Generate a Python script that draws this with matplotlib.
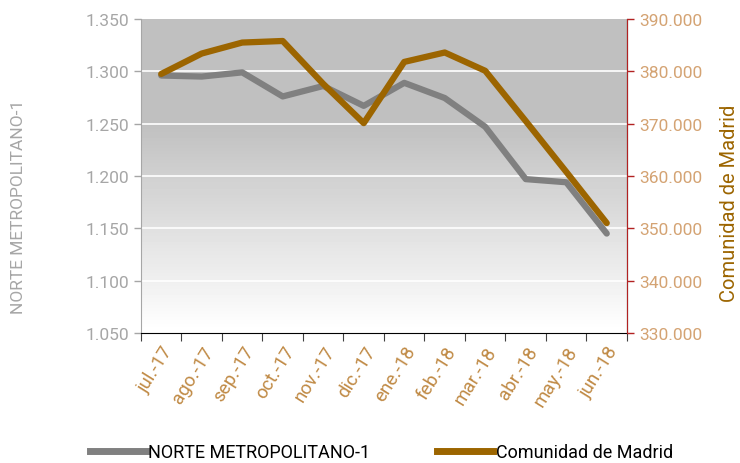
import numpy as np
import matplotlib
matplotlib.use('Agg')
import matplotlib.pyplot as plt
from matplotlib.lines import Line2D

# Data
months = ['jul.-17', 'ago.-17', 'sep.-17', 'oct.-17', 'nov.-17', 'dic.-17',
          'ene.-18', 'feb.-18', 'mar.-18', 'abr.-18', 'may.-18', 'jun.-18']
norte = [1.296, 1.295, 1.299, 1.276, 1.286, 1.267,
         1.289, 1.2745, 1.247, 1.197, 1.194, 1.145]
madrid = [379500, 383400, 385500, 385800, 377600, 370100,
          381800, 383600, 380100, 370500, 360800, 351000]

left_ticks = [1.050, 1.100, 1.150, 1.200, 1.250, 1.300, 1.350]
right_ticks = [330000, 340000, 350000, 360000, 370000, 380000, 390000]

plt.rcParams['font.family'] = ['Roboto', 'DejaVu Sans']

fig = plt.figure(figsize=(7.4, 4.64), dpi=100)
ax = fig.add_axes([0.1905, 0.2802, 0.6568, 0.6767])
ax2 = ax.twinx()

x = np.arange(len(months))
ax.set_xlim(-0.5, len(months) - 0.5)
ax.set_ylim(1.050, 1.350)
ax2.set_ylim(330000, 390000)

# gradient background: gray at top, white at bottom
grad = np.concatenate([np.linspace(1.0, 0.75, 68), np.full(32, 0.75)])[:, None]
ax.imshow(grad, cmap='gray', vmin=0, vmax=1, aspect='auto',
          extent=(-0.5, len(months) - 0.5, 1.050, 1.350), origin='lower', zorder=0)

for t in left_ticks[1:-1]:
    ax.axhline(t, color='white', lw=1.2, zorder=1)

ax.plot(x, norte, color='#808080', lw=4.5, solid_capstyle='round', zorder=3)
ax2.plot(x, madrid, color='#9c6500', lw=4.5, solid_capstyle='round', zorder=3)

# left axis
ax.set_yticks(left_ticks)
ax.set_yticklabels([f'{v:.3f}' for v in left_ticks])
ax.tick_params(axis='y', colors='#a6a6a6', labelsize=12.5, length=5, width=1)
ax.set_ylabel('NORTE METROPOLITANO-1', color='#a6a6a6', fontsize=12.5)
ax.yaxis.set_label_coords(-0.237, 0.404)

# right axis
ax2.set_yticks(right_ticks)
ax2.set_yticklabels([f'{v // 1000}.000' for v in right_ticks])
ax2.tick_params(axis='y', colors='#b22222', labelcolor='#d4a373', labelsize=12.5,
                length=5, width=1)
ax2.set_ylabel('Comunidad de Madrid', color='#9c6500', fontsize=14.5)
ax2.yaxis.set_label_coords(1.192, 0.417)

# x axis
ax.set_xticks(np.arange(-0.5, len(months), 1.0))
ax.set_xticklabels([])
ax.set_xticks(x, minor=True)
ax.set_xticklabels(months, minor=True, rotation=58, ha='right', va='top',
                   rotation_mode='anchor', color='#c08a45', fontsize=13.5)
ax.tick_params(axis='x', which='major', length=6, color='#404040')
ax.tick_params(axis='x', which='minor', length=0, pad=7)

for a in (ax, ax2):
    a.spines['top'].set_visible(False)
ax.spines['left'].set_color('#a6a6a6')
ax.spines['bottom'].set_color('black')
ax2.spines['left'].set_visible(False)
ax2.spines['bottom'].set_visible(False)
ax2.spines['right'].set_color('#b22222')

handles = [Line2D([], [], color='#808080', lw=5),
           Line2D([], [], color='#9c6500', lw=5)]
fig.legend(handles, ['NORTE METROPOLITANO-1', 'Comunidad de Madrid'],
           loc='center', bbox_to_anchor=(0.5155, 0.024), ncol=2,
           frameon=False, fontsize=13, handlelength=3.1, handletextpad=0.15,
           columnspacing=3.7)

fig.savefig('out.png', dpi=100)
